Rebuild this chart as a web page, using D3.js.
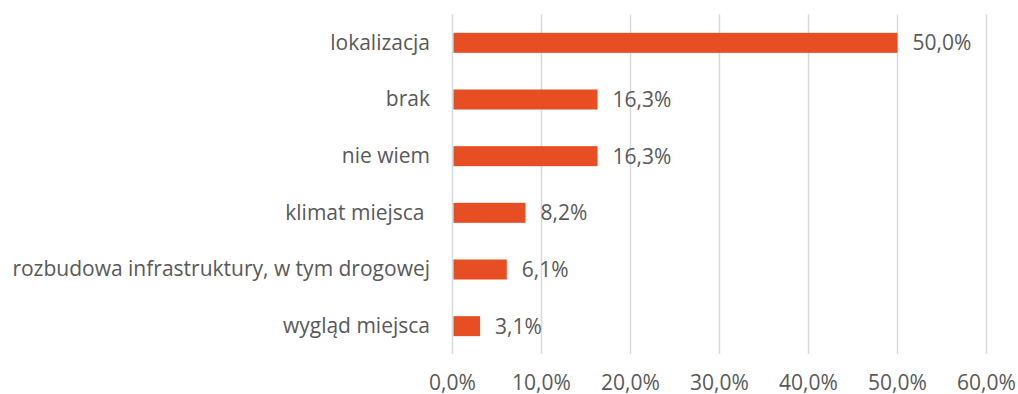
<!DOCTYPE html>
<html>
<head>
<meta charset="utf-8">
<script src="https://cdn.jsdelivr.net/npm/d3@7"></script>
<style>
  body { margin: 0; background: #fff; }
  svg text { font-family: "Open Sans", "Noto Sans", sans-serif; fill: #595959; white-space: pre; }
</style>
</head>
<body>
<svg id="chart" width="1018" height="394"></svg>
<script>
// Categories (top to bottom) and their shares in percent
const categories = ["lokalizacja", "brak", "nie wiem", "klimat miejsca ", "rozbudowa infrastruktury, w tym drogowej", "wygląd miejsca"];
const values = [50.0, 16.3, 16.3, 8.2, 6.1, 3.1];
const tickValues = [0, 10, 20, 30, 40, 50, 60];

const fmt = v => v.toFixed(1).replace(".", ",") + "%";
const fontSize = 21;

const svg = d3.select("#chart");
const x = d3.scaleLinear().domain([0, 60]).range([452.5, 986.5]);
const y = d3.scaleBand().domain(categories).range([14.5, 354.5]).paddingInner(0.647).paddingOuter(0.3235);

// vertical gridlines
svg.append("g").selectAll("line").data(tickValues).join("line")
  .attr("x1", d => x(d)).attr("x2", d => x(d))
  .attr("y1", 14.5).attr("y2", 354)
  .attr("stroke", "#d9d9d9").attr("stroke-width", 1.5);

// bars
svg.append("g").selectAll("rect").data(values).join("rect")
  .attr("x", x(0) + 1)
  .attr("y", (d, i) => y(categories[i]))
  .attr("width", d => x(d) - x(0) - 1)
  .attr("height", y.bandwidth())
  .attr("fill", "#E84E23");

// value labels
svg.append("g").selectAll("text").data(values).join("text")
  .attr("x", d => x(d) + 15)
  .attr("y", (d, i) => y(categories[i]) + y.bandwidth() / 2)
  .attr("dy", "0.36em")
  .attr("font-size", fontSize)
  .text(fmt);

// category labels
svg.append("g").selectAll("text").data(categories).join("text")
  .attr("x", 430)
  .attr("y", d => y(d) + y.bandwidth() / 2)
  .attr("dy", "0.32em")
  .attr("text-anchor", "end")
  .attr("font-size", fontSize)
  .text(d => d);

// x tick labels
svg.append("g").selectAll("text").data(tickValues).join("text")
  .attr("x", d => x(d))
  .attr("y", 389.5)
  .attr("text-anchor", "middle")
  .attr("font-size", fontSize)
  .text(fmt);
</script>
</body>
</html>
